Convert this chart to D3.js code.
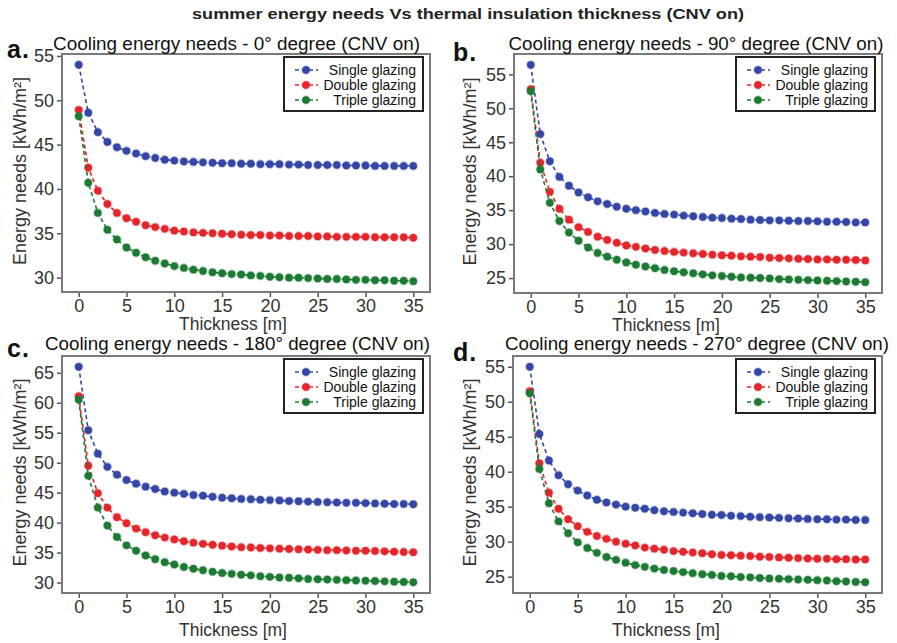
<!DOCTYPE html>
<html><head><meta charset="utf-8">
<script src="https://cdn.jsdelivr.net/npm/d3@7"></script>
<style>body{margin:0;background:#fff}svg{display:block}</style>
</head><body><svg id="c" width="897" height="643"></svg>
<script>
const thickness = [0,1,2,3,4,5,6,7,8,9,10,11,12,13,14,15,16,17,18,19,20,21,22,23,24,25,26,27,28,29,30,31,32,33,34,35];
const seriesNames = ["Single glazing","Double glazing","Triple glazing"];
const mainTitle = "summer energy needs Vs thermal insulation thickness (CNV on)";
const panelTitles = ["Cooling energy needs - 0° degree (CNV on)","Cooling energy needs - 90° degree (CNV on)","Cooling energy needs - 180° degree (CNV on)","Cooling energy needs - 270° degree (CNV on)"];
const panelLetters = ["a.","b.","c.","d."];
const xLabel = "Thickness [m]";
const yLabel = "Energy needs [kWh/m²]";
const xTicks = [0,5,10,15,20,25,30,35];
const yTicksA = [30,35,40,45,50,55];
const yTicksB = [25,30,35,40,45,50,55];
const yTicksC = [30,35,40,45,50,55,60,65];
const yTicksD = [25,30,35,40,45,50,55];

const singleA = [54.0,48.6,46.4,45.3,44.7,44.3,44.0,43.7,43.5,43.3,43.2,43.1,43.05,43.0,42.95,42.9,42.9,42.85,42.85,42.8,42.8,42.8,42.75,42.75,42.7,42.7,42.7,42.7,42.65,42.65,42.65,42.6,42.6,42.6,42.6,42.6];
const doubleA = [48.9,42.4,39.8,38.3,37.3,36.7,36.3,35.9,35.7,35.5,35.3,35.2,35.1,35.05,35.0,34.95,34.9,34.85,34.8,34.8,34.75,34.75,34.7,34.7,34.7,34.65,34.65,34.6,34.6,34.6,34.6,34.55,34.55,34.55,34.55,34.5];
const tripleA = [48.2,40.7,37.3,35.4,34.3,33.4,32.8,32.3,31.9,31.6,31.3,31.1,30.9,30.75,30.6,30.5,30.4,30.35,30.25,30.2,30.1,30.05,30.0,30.0,29.95,29.9,29.85,29.85,29.8,29.75,29.75,29.7,29.7,29.65,29.65,29.6];

const singleB = [56.4,46.2,42.2,39.9,38.6,37.6,36.9,36.3,35.9,35.5,35.2,35.0,34.8,34.6,34.45,34.35,34.2,34.1,34.0,33.9,33.85,33.75,33.7,33.6,33.55,33.5,33.5,33.45,33.4,33.4,33.35,33.3,33.3,33.25,33.2,33.2];
const doubleB = [52.8,42.0,37.7,35.2,33.6,32.5,31.8,31.1,30.6,30.2,29.8,29.6,29.35,29.15,29.0,28.85,28.75,28.65,28.55,28.45,28.35,28.3,28.2,28.15,28.1,28.0,27.95,27.9,27.85,27.8,27.75,27.75,27.7,27.7,27.65,27.6];
const tripleB = [52.5,41.0,36.1,33.4,31.7,30.5,29.5,28.7,28.15,27.7,27.3,26.95,26.7,26.45,26.2,26.0,25.85,25.7,25.55,25.4,25.3,25.2,25.1,25.05,25.0,24.95,24.85,24.8,24.75,24.7,24.65,24.6,24.55,24.5,24.45,24.4];

const singleC = [66.0,55.4,51.5,49.3,48.0,47.1,46.5,46.0,45.6,45.2,45.0,44.8,44.6,44.5,44.3,44.15,44.05,43.95,43.9,43.8,43.75,43.7,43.6,43.55,43.5,43.45,43.4,43.35,43.3,43.3,43.25,43.2,43.15,43.1,43.1,43.05];
const doubleC = [61.1,49.5,44.9,42.5,40.9,39.9,39.0,38.4,37.9,37.5,37.2,36.9,36.65,36.45,36.3,36.15,36.0,35.9,35.85,35.75,35.7,35.65,35.6,35.55,35.5,35.45,35.4,35.4,35.35,35.3,35.3,35.25,35.2,35.15,35.1,35.05];
const tripleC = [60.5,47.8,42.5,39.5,37.6,36.2,35.3,34.5,33.9,33.4,33.0,32.6,32.3,32.05,31.8,31.6,31.45,31.3,31.2,31.05,30.95,30.85,30.8,30.7,30.6,30.55,30.5,30.45,30.4,30.35,30.3,30.25,30.2,30.15,30.1,30.05];

const singleD = [55.0,45.4,41.6,39.5,38.2,37.3,36.6,36.0,35.6,35.3,35.0,34.85,34.7,34.5,34.35,34.25,34.15,34.05,33.95,33.85,33.8,33.7,33.65,33.55,33.5,33.45,33.4,33.35,33.3,33.25,33.2,33.2,33.15,33.15,33.1,33.1];
const doubleD = [51.5,41.2,37.0,34.7,33.2,32.2,31.4,30.8,30.4,30.0,29.7,29.45,29.15,29.0,28.85,28.65,28.55,28.45,28.35,28.2,28.1,28.05,28.0,27.95,27.85,27.8,27.75,27.7,27.65,27.6,27.55,27.55,27.5,27.5,27.45,27.45];
const tripleD = [51.2,40.4,35.5,32.9,31.2,29.9,29.1,28.4,27.8,27.4,27.0,26.65,26.4,26.15,25.95,25.8,25.65,25.5,25.35,25.25,25.1,25.05,24.95,24.9,24.8,24.75,24.7,24.65,24.6,24.55,24.5,24.45,24.35,24.3,24.25,24.2];

const colors = ["#3446a6","#e4262b","#1c7a33"];

const panels = [
  {series:[singleA,doubleA,tripleA], yTicks:yTicksA, box:{l:62,r:430,t:54,b:292}, title:{x:236.5,y:49.5,w:367}, letter:{x:7,y:58}, ylab:{x:20}, xlab:{x:233,y:330}},
  {series:[singleB,doubleB,tripleB], yTicks:yTicksB, box:{l:514,r:882,t:54,b:293}, title:{x:696,y:49.5,w:375}, letter:{x:453,y:61}, ylab:{x:470}, xlab:{x:666,y:331}},
  {series:[singleC,doubleC,tripleC], yTicks:yTicksC, box:{l:62,r:430,t:356,b:593}, title:{x:237.5,y:350,w:385}, letter:{x:7,y:357}, ylab:{x:20}, xlab:{x:233,y:636}},
  {series:[singleD,doubleD,tripleD], yTicks:yTicksD, box:{l:513,r:882,t:356,b:593}, title:{x:697,y:350,w:384}, letter:{x:453,y:361}, ylab:{x:470}, xlab:{x:666,y:636}}
];

const svg = d3.select("#c");
const FONT = "'Liberation Sans', Arial, sans-serif";

svg.append("text").attr("x",468).attr("y",19).attr("text-anchor","middle")
  .attr("font-family",FONT).attr("font-weight","bold").attr("font-size",15).attr("fill","#222")
  .attr("textLength",552).attr("lengthAdjust","spacingAndGlyphs").text(mainTitle);

panels.forEach((p,i)=>{
  const b = p.box;
  const all = p.series.flat();
  const lo = d3.min(all), hi = d3.max(all), pad = (hi-lo)*0.05;
  const xPad = (d3.max(thickness)-d3.min(thickness))*0.05;
  const x = d3.scaleLinear().domain([d3.min(thickness)-xPad, d3.max(thickness)+xPad]).range([b.l,b.r]);
  const y = d3.scaleLinear().domain([lo-pad, hi+pad]).range([b.b,b.t]);
  const g = svg.append("g");

  g.append("rect").attr("x",b.l).attr("y",b.t).attr("width",b.r-b.l).attr("height",b.b-b.t)
    .attr("fill","#fff");

  p.series.forEach((vals,k)=>{
    const pts = thickness.map((t,j)=>[t,vals[j]]);
    g.append("path").datum(pts).attr("fill","none").attr("stroke",colors[k]).attr("stroke-width",1.6)
      .attr("stroke-dasharray","4,3")
      .attr("d",d3.line().x(d=>x(d[0])).y(d=>y(d[1])));
    g.selectAll(null).data(pts).enter().append("circle")
      .attr("cx",d=>x(d[0])).attr("cy",d=>y(d[1])).attr("r",3.7)
      .attr("fill",colors[k]).attr("stroke",colors[k]).attr("stroke-opacity",0.35).attr("stroke-width",1.8);
  });

  g.append("rect").attr("x",b.l).attr("y",b.t).attr("width",b.r-b.l).attr("height",b.b-b.t)
    .attr("fill","none").attr("stroke","#7a7a7a").attr("stroke-width",2);

  const xa = g.append("g").attr("transform",`translate(0,${b.b+1})`)
    .call(d3.axisBottom(x).tickValues(xTicks).tickSize(4).tickPadding(2).tickFormat(d3.format("d")));
  xa.select(".domain").remove();
  xa.selectAll("line").attr("stroke","#555").attr("stroke-width",1.5);
  xa.selectAll("text").attr("font-family",FONT).attr("font-size",18).attr("fill","#333");

  const ya = g.append("g").attr("transform",`translate(${b.l-1},0)`)
    .call(d3.axisLeft(y).tickValues(p.yTicks).tickSize(4).tickPadding(3).tickFormat(d3.format("d")));
  ya.select(".domain").remove();
  ya.selectAll("line").attr("stroke","#555").attr("stroke-width",1.5);
  ya.selectAll("text").attr("font-family",FONT).attr("font-size",18).attr("fill","#333");

  svg.append("text").attr("x",p.title.x).attr("y",p.title.y).attr("text-anchor","middle")
    .attr("font-family",FONT).attr("font-size",18).attr("fill","#111")
    .attr("textLength",p.title.w).attr("lengthAdjust","spacingAndGlyphs").text(panelTitles[i]);

  svg.append("text").attr("x",p.letter.x).attr("y",p.letter.y)
    .attr("font-family",FONT).attr("font-weight","bold").attr("font-size",25).attr("fill","#111")
    .attr("letter-spacing",1).text(panelLetters[i]);

  svg.append("text").attr("transform",`translate(${p.ylab.x+6},${(b.t+b.b)/2-2}) rotate(-90)`)
    .attr("text-anchor","middle").attr("font-family",FONT).attr("font-size",18).attr("fill","#333")
    .text(yLabel);

  svg.append("text").attr("x",p.xlab.x).attr("y",p.xlab.y).attr("text-anchor","middle")
    .attr("font-family",FONT).attr("font-size",17.5).attr("fill","#333").text(xLabel);

  // legend
  const lw = 139, lh = 54, lx = b.r-146, ly = b.t+3;
  const lg = svg.append("g");
  lg.append("rect").attr("x",lx).attr("y",ly).attr("width",lw).attr("height",lh)
    .attr("fill","#fff").attr("stroke","#222").attr("stroke-width",2);
  seriesNames.forEach((name,k)=>{
    const ry = ly + 13 + k*15;
    const kx = lx + 22;
    lg.append("line").attr("x1",kx-12).attr("x2",kx+12).attr("y1",ry).attr("y2",ry)
      .attr("stroke",colors[k]).attr("stroke-width",1.6).attr("stroke-dasharray","4,3").attr("stroke-dashoffset",-1);
    lg.append("circle").attr("cx",kx).attr("cy",ry).attr("r",3.7).attr("fill",colors[k])
      .attr("stroke",colors[k]).attr("stroke-opacity",0.35).attr("stroke-width",1.8);
    lg.append("text").attr("x",lx+lw-7).attr("y",ry).attr("dy","0.36em").attr("text-anchor","end")
      .attr("font-family",FONT).attr("font-size",14).attr("fill","#111").text(name);
  });
});
</script></body></html>
